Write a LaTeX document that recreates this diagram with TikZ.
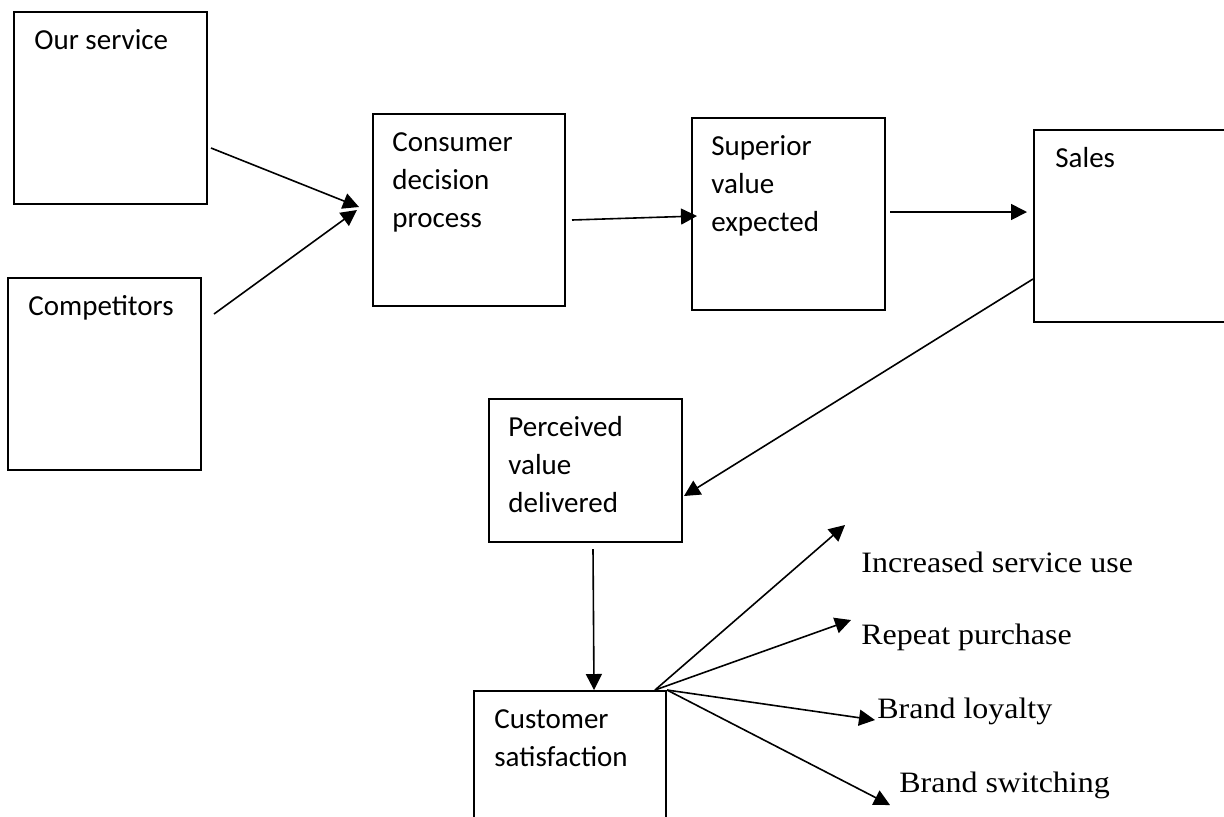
\documentclass[tikz,border=0pt]{standalone}
\usepackage{fontspec}
\setmainfont{Carlito}
\newfontfamily\serifB[FakeStretch=1.08]{Liberation Serif}
\usetikzlibrary{arrows.meta}
\tikzset{
 box/.style={draw, line width=1pt, inner sep=0pt, anchor=north west},
 lbl/.style={inner sep=0pt, anchor=base west, font=\fontsize{14.5}{19}\selectfont},
 res/.style={inner sep=0pt, anchor=base west, font=\serifB\fontsize{14.8}{19}\selectfont},
 arr/.style={line width=0.8pt, -{Triangle[length=8pt,width=8pt]}},
}
\newcommand\boxtext[1]{\parbox[t]{90pt}{\raggedright #1}}
\begin{document}
\begin{tikzpicture}[x=0.5pt,y=-0.5pt]
\clip (0,0) rectangle (1224,816);
\fill[white] (0,0) rectangle (1224,816);
% boxes
\node[box, minimum width=96.5pt, minimum height=96pt] (ours) at (13,11) {};
\node[lbl] (oursT) at (34,49) {\boxtext{Our service}};
\node[box, minimum width=96.5pt, minimum height=96pt] (comp) at (7,277) {};
\node[lbl] (compT) at (28,315) {\boxtext{Competitors}};
\node[box, minimum width=96pt, minimum height=96pt] (cdp) at (372,113) {};
\node[lbl] (cdpT) at (392,151) {\boxtext{Consumer\\decision\\process}};
\node[box, minimum width=96.5pt, minimum height=96pt] (sup) at (691,117) {};
\node[lbl] (supT) at (711,155) {\boxtext{Superior\\value\\expected}};
\node[box, minimum width=96.5pt, minimum height=96pt] (sales) at (1033,129) {};
\node[lbl] (salesT) at (1055,167) {\boxtext{Sales}};
\node[box, minimum width=96.5pt, minimum height=71.5pt] (pvd) at (488,398) {};
\node[lbl] (pvdT) at (508,436) {\boxtext{Perceived\\value\\delivered}};
\node[box, minimum width=96pt, minimum height=96pt] (cs) at (473,690) {};
\node[lbl] (csT) at (494,728) {\boxtext{Customer\\satisfaction}};
% results
\node[res] (inc) at (861,572) {Increased service use};
\node[res] (rep) at (861,644) {Repeat purchase};
\node[res] (loy) at (877,718) {Brand loyalty};
\node[res] (sw) at (899,792) {Brand switching};
% connectors
\draw[arr] ([shift={(3,40)}]ours.east) -- ([shift={(-13,-3)}]cdp.west);
\draw[arr] ([shift={(12,-60)}]comp.east) -- ([shift={(-15,0)}]cdp.west);
\draw[arr] ([shift={(6,10)}]cdp.east) -- ([shift={(6,2)}]sup.west);
\draw[arr] ([shift={(4,-2)}]sup.east) -- ([shift={(-6,-14)}]sales.west);
\draw[arr] ([shift={(0,53)}]sales.west) -- ([shift={(1,25.5)}]pvd.east);
\draw[arr] ([shift={(7.5,6)}]pvd.south) -- ([shift={(24,0)}]cs.north);
\coordinate (fan) at ([shift={(-12,0)}]cs.north east);
\draw[arr] (fan) -- ([shift={(-16,-47)}]inc.base west);
\draw[arr] (fan) -- ([shift={(-10,-24)}]rep.base west);
\draw[arr] (cs.north east) -- ([shift={(-2,2)}]loy.base west);
\draw[arr] (cs.north east) -- ([shift={(-9,13)}]sw.base west);
\end{tikzpicture}
\end{document}
